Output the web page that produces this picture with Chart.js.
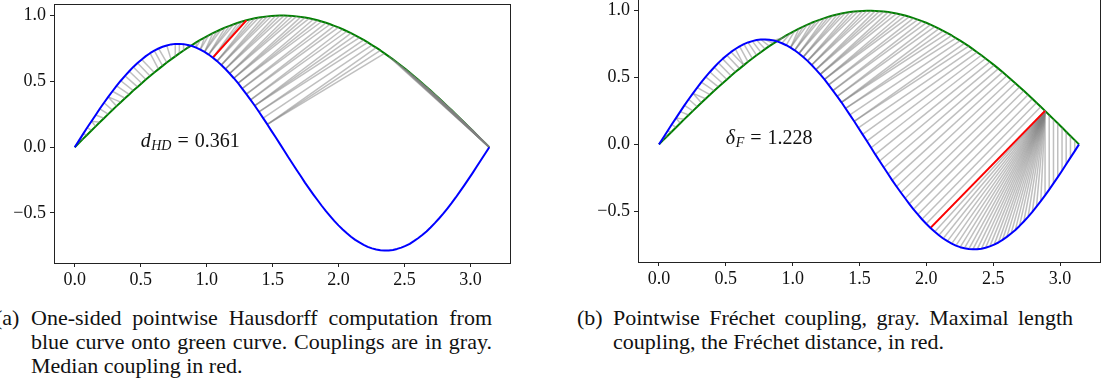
<!DOCTYPE html>
<html lang="en">
<head>
<meta charset="UTF-8">
<title>Hausdorff and Fréchet couplings</title>
<script src="https://cdn.jsdelivr.net/npm/chart.js"></script>
<style>
  body { margin: 0; width: 1119px; height: 388px; overflow: hidden; background: #fff; position: relative; font-family: "Liberation Serif", serif; color: #111; }
  canvas { position: absolute; }
  #chartA { left: 0; top: 0; }
  #chartB { left: 560px; top: -2px; }
  .cap { position: absolute; top: 306px; font-size: 22px; line-height: 24px; white-space: nowrap; }
  .cap .full { text-align: justify; text-align-last: justify; }
  .cap .lab { display: inline-block; width: 36px; margin-left: -36px; text-align: left; }
  #capA { left: 31px; width: 461px; }
  #capB { left: 613px; width: 460px; }
</style>
</head>
<body>

<canvas id="chartA" width="520" height="292"></canvas>
<canvas id="chartB" width="559" height="292"></canvas>

<div class="cap" id="capA">
  <div class="full"><span class="lab">(a)</span>One-sided pointwise Hausdorff computation from</div>
  <div class="full">blue curve onto green curve. Couplings are in gray.</div>
  <div>Median coupling in red.</div>
</div>
<div class="cap" id="capB">
  <div class="full"><span class="lab">(b)</span>Pointwise Fréchet coupling, gray. Maximal length</div>
  <div>coupling, the Fréchet distance, in red.</div>
</div>

<script>
// sample positions along x (0 .. pi)
const xs = [
  0.000, 0.032, 0.063, 0.095, 0.127, 0.159, 0.190, 0.222, 0.254, 0.286,
  0.317, 0.349, 0.381, 0.413, 0.444, 0.476, 0.508, 0.539, 0.571, 0.603,
  0.635, 0.666, 0.698, 0.730, 0.762, 0.793, 0.825, 0.857, 0.889, 0.920,
  0.952, 0.984, 1.015, 1.047, 1.079, 1.111, 1.142, 1.174, 1.206, 1.238,
  1.269, 1.301, 1.333, 1.365, 1.396, 1.428, 1.460, 1.491, 1.523, 1.555,
  1.587, 1.618, 1.650, 1.682, 1.714, 1.745, 1.777, 1.809, 1.841, 1.872,
  1.904, 1.936, 1.967, 1.999, 2.031, 2.063, 2.094, 2.126, 2.158, 2.190,
  2.221, 2.253, 2.285, 2.317, 2.348, 2.380, 2.412, 2.443, 2.475, 2.507,
  2.539, 2.570, 2.602, 2.634, 2.666, 2.697, 2.729, 2.761, 2.793, 2.824,
  2.856, 2.888, 2.919, 2.951, 2.983, 3.015, 3.046, 3.078, 3.110, 3.142
];

// green curve
const greenY = [
  0.000, 0.032, 0.063, 0.095, 0.127, 0.158, 0.189, 0.220, 0.251, 0.282,
  0.312, 0.342, 0.372, 0.401, 0.430, 0.458, 0.486, 0.514, 0.541, 0.567,
  0.593, 0.618, 0.643, 0.667, 0.690, 0.713, 0.735, 0.756, 0.776, 0.796,
  0.815, 0.833, 0.850, 0.866, 0.881, 0.896, 0.910, 0.922, 0.934, 0.945,
  0.955, 0.964, 0.972, 0.979, 0.985, 0.990, 0.994, 0.997, 0.999, 1.000,
  1.000, 0.999, 0.997, 0.994, 0.990, 0.985, 0.979, 0.972, 0.964, 0.955,
  0.945, 0.934, 0.922, 0.910, 0.896, 0.881, 0.866, 0.850, 0.833, 0.815,
  0.796, 0.776, 0.756, 0.735, 0.713, 0.690, 0.667, 0.643, 0.618, 0.593,
  0.567, 0.541, 0.514, 0.486, 0.458, 0.430, 0.401, 0.372, 0.342, 0.312,
  0.282, 0.251, 0.220, 0.189, 0.158, 0.127, 0.095, 0.063, 0.032, 0.000
];

// blue curve
const blueY = [
  0.000, 0.050, 0.099, 0.149, 0.197, 0.245, 0.292, 0.338, 0.382, 0.425,
  0.466, 0.505, 0.542, 0.577, 0.610, 0.640, 0.667, 0.692, 0.714, 0.734,
  0.750, 0.763, 0.773, 0.781, 0.785, 0.785, 0.783, 0.777, 0.769, 0.757,
  0.742, 0.724, 0.704, 0.680, 0.654, 0.625, 0.594, 0.560, 0.524, 0.486,
  0.445, 0.403, 0.360, 0.315, 0.269, 0.221, 0.173, 0.124, 0.075, 0.025,
  -0.025, -0.075, -0.124, -0.173, -0.221, -0.269, -0.315, -0.360, -0.403, -0.445,
  -0.486, -0.524, -0.560, -0.594, -0.625, -0.654, -0.680, -0.704, -0.724, -0.742,
  -0.757, -0.769, -0.777, -0.783, -0.785, -0.785, -0.781, -0.773, -0.763, -0.750,
  -0.734, -0.714, -0.692, -0.667, -0.640, -0.610, -0.577, -0.542, -0.505, -0.466,
  -0.425, -0.382, -0.338, -0.292, -0.245, -0.197, -0.149, -0.099, -0.050, 0.000
];

const xTicks = [0, 0.5, 1, 1.5, 2, 2.5, 3];
const yTicks = [-0.5, 0, 0.5, 1];
const xRange = [-0.157, 3.299];
const yRange = [-0.88, 1.088];

const labelA = { sym: 'd', sub: 'HD', rest: '0.361' };
const labelB = { sym: 'δ', sub: 'F', rest: '1.228' };
const labelAt = [0.5, 0.0];

const bluePts = xs.map((x, i) => ({ x: x, y: blueY[i] }));
const greenPts = xs.map((x, i) => ({ x: x, y: greenY[i] }));

const dist = (p, q) => Math.hypot(p.x - q.x, p.y - q.y);

// every green point is linked to its closest blue point
function nearestPairs(blue, green) {
  return green.map(g => {
    let best = blue[0];
    blue.forEach(b => { if (dist(b, g) < dist(best, g)) best = b; });
    return [best, g];
  });
}

// discrete Frechet coupling (dynamic programming + backtrack)
function frechetPairs(P, Q) {
  const n = P.length, m = Q.length;
  const ca = [];
  for (let i = 0; i < n; i++) {
    ca.push([]);
    for (let j = 0; j < m; j++) {
      const d = dist(P[i], Q[j]);
      if (i === 0 && j === 0) ca[i][j] = d;
      else if (i === 0) ca[i][j] = Math.max(ca[0][j - 1], d);
      else if (j === 0) ca[i][j] = Math.max(ca[i - 1][0], d);
      else ca[i][j] = Math.max(Math.min(ca[i - 1][j], ca[i - 1][j - 1], ca[i][j - 1]), d);
    }
  }
  let i = n - 1, j = m - 1;
  const path = [[P[i], Q[j]]];
  while (i > 0 || j > 0) {
    if (i === 0) j--;
    else if (j === 0) i--;
    else {
      const a = ca[i - 1][j - 1], b = ca[i - 1][j], c = ca[i][j - 1];
      if (a <= b && a <= c) { i--; j--; }
      else if (b <= c) i--;
      else j--;
    }
    path.push([P[i], Q[j]]);
  }
  return path;
}

const pairsA = nearestPairs(bluePts, greenPts);
const sortedA = pairsA.slice().sort((a, b) => dist(a[0], a[1]) - dist(b[0], b[1]));
const redA = sortedA[Math.floor(sortedA.length / 2)];

const pairsB = frechetPairs(bluePts, greenPts);
let redB = pairsB[0];
pairsB.forEach(p => { if (dist(p[0], p[1]) > dist(redB[0], redB[1])) redB = p; });

function buildDatasets(pairs, red) {
  const ds = [
    { data: bluePts, borderColor: '#0000ff', borderWidth: 2, order: 0 },
    { data: red.slice(), borderColor: '#ff0000', borderWidth: 2, order: 1 },
    { data: greenPts, borderColor: '#008000', borderWidth: 2, order: 3 }
  ];
  pairs.forEach(p => ds.push({ data: p.slice(), borderColor: 'rgba(128,128,128,0.5)', borderWidth: 1.5, order: 2 }));
  return ds.map(d => Object.assign({ showLine: true, pointRadius: 0, fill: false, tension: 0, borderJoinStyle: 'round' }, d));
}

const serif = '"Liberation Serif", serif';
const tickFont = { family: serif, size: 18 };
const fmt = v => (v < 0 ? '\u2212' : '') + Math.abs(v).toFixed(1);

// box around the axes and the math label
const framePlugin = {
  id: 'frame',
  afterDraw(chart, args, opts) {
    const { ctx, chartArea: a, scales } = chart;
    ctx.save();
    ctx.strokeStyle = '#222';
    ctx.lineWidth = 1;
    ctx.strokeRect(Math.round(a.left) + 0.5, Math.round(a.top) + 0.5,
      Math.round(a.right - a.left), Math.round(a.bottom - a.top));

    let px = scales.x.getPixelForValue(labelAt[0]);
    const py = scales.y.getPixelForValue(labelAt[1]);
    ctx.fillStyle = '#111';
    ctx.textBaseline = 'alphabetic';
    ctx.font = 'italic 20px ' + serif;
    ctx.fillText(opts.sym, px, py);
    px += ctx.measureText(opts.sym).width + 0.5;
    ctx.font = 'italic 14px ' + serif;
    ctx.fillText(opts.sub, px, py + 3);
    px += ctx.measureText(opts.sub).width + 6;
    ctx.font = '20px ' + serif;
    ctx.fillText('=', px, py);
    px += ctx.measureText('=').width + 6;
    ctx.fillText(opts.rest, px, py);
    ctx.restore();
  }
};

function makeOptions(pad, axisW, axisH, label) {
  return {
    responsive: false,
    animation: false,
    events: [],
    devicePixelRatio: 1,
    layout: { autoPadding: false, padding: pad },
    plugins: { legend: { display: false }, tooltip: { enabled: false }, frame: label },
    scales: {
      x: {
        type: 'linear', min: xRange[0], max: xRange[1],
        afterBuildTicks: s => { s.ticks = xTicks.map(v => ({ value: v })); },
        afterFit: s => { s.height = axisH; s.paddingLeft = 0; s.paddingRight = 0; },
        grid: { drawOnChartArea: false, tickLength: 4, color: '#222' },
        border: { display: false },
        ticks: { padding: 2, color: '#111', font: tickFont, callback: fmt, maxRotation: 0, autoSkip: false }
      },
      y: {
        type: 'linear', min: yRange[0], max: yRange[1],
        afterBuildTicks: s => { s.ticks = yTicks.map(v => ({ value: v })); },
        afterFit: s => { s.width = axisW; s.paddingTop = 0; s.paddingBottom = 0; },
        grid: { drawOnChartArea: false, tickLength: 4, color: '#222' },
        border: { display: false },
        ticks: { padding: 4, color: '#111', font: tickFont, callback: fmt, autoSkip: false }
      }
    }
  };
}

new Chart(document.getElementById('chartA'), {
  type: 'scatter',
  data: { datasets: buildDatasets(pairsA, redA) },
  options: makeOptions({ top: 4, right: 10, left: 0, bottom: 0 }, 54, 29, labelA),
  plugins: [framePlugin]
});

new Chart(document.getElementById('chartB'), {
  type: 'scatter',
  data: { datasets: buildDatasets(pairsB, redB) },
  options: makeOptions({ top: 1, right: 19, left: 0, bottom: 0 }, 78, 28, labelB),
  plugins: [framePlugin]
});
</script>
</body>
</html>
